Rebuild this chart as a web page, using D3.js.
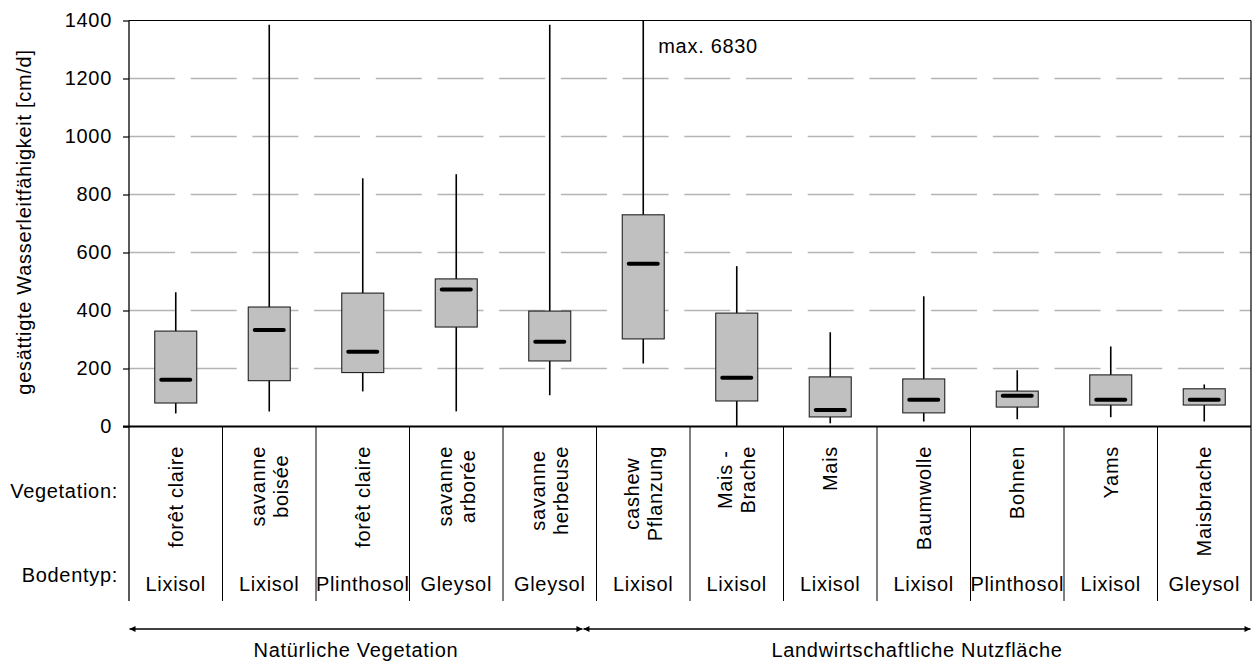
<!DOCTYPE html>
<html><head><meta charset="utf-8">
<script src="https://cdn.jsdelivr.net/npm/d3@7"></script>
<style>
body{margin:0;background:#fff;}
svg text{font-family:"Liberation Sans",Arial,sans-serif;font-size:20px;letter-spacing:0.7px;fill:#000;}
</style></head>
<body><svg id="c" width="1253" height="664"></svg>
<script>
// ---- data ----
const vegetation = [["forêt claire"],["savanne","boisée"],["forêt claire"],["savanne","arborée"],["savanne","herbeuse"],["cashew","Pflanzung"],["Mais -","Brache"],["Mais"],["Baumwolle"],["Bohnen"],["Yams"],["Maisbrache"]];
const soils = ["Lixisol","Lixisol","Plinthosol","Gleysol","Gleysol","Lixisol","Lixisol","Lixisol","Lixisol","Plinthosol","Lixisol","Gleysol"];
const minVals    = [45, 52, 121, 52, 108, 217, 2, 11, 17, 25, 32, 17];
const q1Vals     = [81, 158, 186, 343, 226, 302, 88, 33, 47, 67, 74, 74];
const medianVals = [161, 333, 258, 472, 292, 561, 168, 57, 92, 106, 92, 92];
const q3Vals     = [329, 412, 460, 509, 398, 730, 391, 171, 164, 122, 178, 130];
const maxVals    = [463, 1385, 856, 870, 1385, 6830, 553, 325, 449, 194, 276, 145];
const yTicks = [0, 200, 400, 600, 800, 1000, 1200, 1400];
const groups = [{label:"Natürliche Vegetation", from:0, to:5},{label:"Landwirtschaftliche Nutzfläche", from:5, to:12}];
const yTitle = "gesättigte Wasserleitfähigkeit [cm/d]";
const maxNote = "max. 6830";

// ---- layout ----
const svg = d3.select("#c");
const pL = 129, pR = 1251, pT = 20.5, pB = 426.5;
const y = d3.scaleLinear().domain([0, 1400]).range([pB, pT]);
const x = d3.scaleBand().domain(d3.range(soils.length)).range([pL, pR]);
const bw = x.bandwidth();
const cx = i => x(i) + bw / 2;
const yc = v => y(Math.min(v, 1400));

// gridlines
svg.append("g").selectAll("line").data(yTicks.filter(t => t > 0 && t < 1400)).join("line")
  .attr("x1", pL).attr("x2", pR).attr("y1", d => y(d)).attr("y2", d => y(d))
  .attr("stroke", "#b4b4b4").attr("stroke-width", 1.3).attr("stroke-dasharray", "46,15.7");

// frame: top and right
svg.append("line").attr("x1", pL).attr("x2", pR).attr("y1", pT).attr("y2", pT).attr("stroke", "#000").attr("stroke-width", 1.2);
svg.append("line").attr("x1", pR).attr("x2", pR).attr("y1", pT).attr("y2", 601).attr("stroke", "#000").attr("stroke-width", 1.2);

// y axis
const yAxis = svg.append("g").attr("transform", `translate(${pL},0)`)
  .call(d3.axisLeft(y).tickValues(yTicks).tickSize(6).tickPadding(11).tickFormat(d3.format("d")));
yAxis.select(".domain").remove();
yAxis.selectAll(".tick line").attr("stroke", "#000").attr("stroke-width", 1.2);
yAxis.selectAll("text").attr("font-size", null).attr("font-family", null).style("font-size", "20px");
svg.append("line").attr("x1", pL).attr("x2", pL).attr("y1", pT).attr("y2", 601).attr("stroke", "#000").attr("stroke-width", 1.3);

// y title
svg.append("text").attr("transform", `translate(31,222) rotate(-90)`).attr("text-anchor", "middle").text(yTitle);

// column separators below axis
svg.append("g").selectAll("line").data(d3.range(1, soils.length)).join("line")
  .attr("x1", d => x(d)).attr("x2", d => x(d)).attr("y1", pB).attr("y2", 601)
  .attr("stroke", "#000").attr("stroke-width", 1);

// boxes
const boxW = 42, medW = 29;
const g = svg.append("g").selectAll("g").data(soils.map((s, i) => i)).join("g");
g.append("line").attr("x1", cx).attr("x2", cx).attr("y1", i => yc(minVals[i])).attr("y2", i => yc(maxVals[i]))
  .attr("stroke", "#000").attr("stroke-width", 1.6);
g.append("rect").attr("x", i => cx(i) - boxW / 2).attr("width", boxW)
  .attr("y", i => y(q3Vals[i])).attr("height", i => y(q1Vals[i]) - y(q3Vals[i]))
  .attr("fill", "#c0c0c0").attr("stroke", "#222").attr("stroke-width", 1.1);
g.append("line").attr("x1", i => cx(i) - medW / 2).attr("x2", i => cx(i) + medW / 2)
  .attr("y1", i => y(medianVals[i])).attr("y2", i => y(medianVals[i]))
  .attr("stroke", "#000").attr("stroke-width", 4).attr("stroke-linecap", "round");

// x axis line
svg.append("line").attr("x1", pL - 6).attr("x2", pR).attr("y1", pB).attr("y2", pB).attr("stroke", "#000").attr("stroke-width", 2);

// max annotation
const iMax = maxVals.indexOf(d3.max(maxVals));
svg.append("text").attr("x", cx(iMax) + 15).attr("y", 53).text(maxNote);

// vegetation labels (rotated, top aligned, lines centred)
const labTop = 446, lineGap = 23;
vegetation.forEach((lines, i) => {
  const grp = svg.append("g");
  const n = lines.length;
  const ts = lines.map((t, k) => grp.append("text").attr("text-anchor", "middle").text(t));
  const L = d3.max(ts, t => t.node().getComputedTextLength());
  ts.forEach((t, k) => {
    const bx = cx(i) + 7 + (k - (n - 1) / 2) * lineGap;
    t.attr("transform", `translate(${bx},${labTop + L / 2}) rotate(-90)`);
  });
});

// soil labels
svg.append("g").selectAll("text").data(soils).join("text")
  .attr("x", (d, i) => cx(i)).attr("y", 591).attr("text-anchor", "middle").text(d => d);

// row headers
svg.append("text").attr("x", 118).attr("y", 498).attr("text-anchor", "end").text("Vegetation:");
svg.append("text").attr("x", 118).attr("y", 582).attr("text-anchor", "end").text("Bodentyp:");

// group arrows
const defs = svg.append("defs");
defs.append("marker").attr("id", "ah").attr("viewBox", "0 0 10 10").attr("refX", 10).attr("refY", 5)
  .attr("markerWidth", 9).attr("markerHeight", 6).attr("markerUnits", "userSpaceOnUse").attr("orient", "auto-start-reverse")
  .append("path").attr("d", "M0,0L10,5L0,10Z").attr("fill", "#000");
const gx = k => k === 0 ? pL : (k === soils.length ? pR : x(k) - 0.145 * bw);
groups.forEach(gr => {
  const a = gx(gr.from), b = gx(gr.to);
  svg.append("line").attr("x1", a + 0.5).attr("x2", b - 0.5).attr("y1", 629).attr("y2", 629)
    .attr("stroke", "#000").attr("stroke-width", 1.6)
    .attr("marker-start", "url(#ah)").attr("marker-end", "url(#ah)");
  svg.append("text").attr("x", (a + b) / 2).attr("y", 657).attr("text-anchor", "middle").text(gr.label);
});
</script></body></html>
